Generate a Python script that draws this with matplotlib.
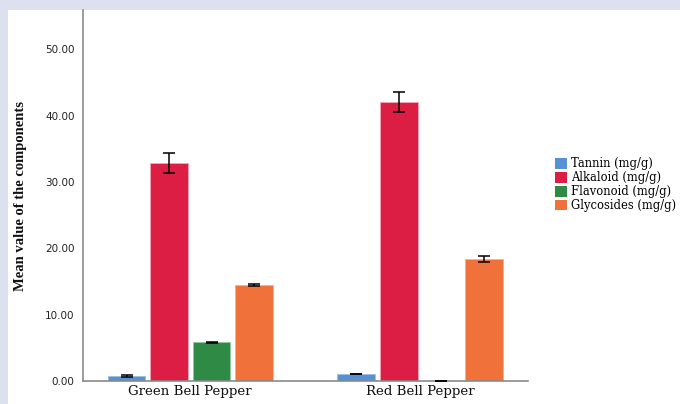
import numpy as np
import matplotlib
matplotlib.use("Agg")
import matplotlib.pyplot as plt
from matplotlib.patches import Rectangle, Patch

# ── Data ────────────────────────────────────────────────────────────
groups = ["Green Bell Pepper", "Red Bell Pepper"]
components = ["Tannin (mg/g)", "Alkaloid (mg/g)", "Flavonoid (mg/g)", "Glycosides (mg/g)"]
tannin = [0.75, 1.05]
alkaloid = [32.8, 42.1]
flavonoid = [5.87, 0.0]
glycosides = [14.5, 18.4]
tannin_err = [0.12, 0.05]
alkaloid_err = [1.5, 1.5]
flavonoid_err = [0.08, 0.05]
glycosides_err = [0.15, 0.45]

means = [tannin, alkaloid, flavonoid, glycosides]
errs = [tannin_err, alkaloid_err, flavonoid_err, glycosides_err]
colors = ["#5591d4", "#dc1e45", "#2f8a46", "#f1713a"]
edges = ["#9cc0ea", "#f4a3b4", "#8fc89e", "#f8b08f"]

fig = plt.figure(figsize=(6.8, 4.04), dpi=100)
fig.patch.set_facecolor("#dde0ef")
# white panel behind the chart
fig.patches.append(Rectangle((8 / 680, 0), 1, 1 - 10 / 404, transform=fig.transFigure,
                             facecolor="white", edgecolor="none", zorder=-10))

ax = fig.add_axes([83 / 680, 1 - 381 / 404, 445 / 680, 371 / 404])
ax.set_zorder(1)
ax.set_facecolor("white")

x = np.arange(len(groups))
step = 0.185
width = 0.165
for i, (m, e, c, ec) in enumerate(zip(means, errs, colors, edges)):
    pos = x + (i - 1.5) * step
    ax.bar(pos, m, width=width, color=c, edgecolor=ec, linewidth=0.7, zorder=2)
    ax.errorbar(pos, m, yerr=e, fmt="none", ecolor="black", elinewidth=1.1,
                capsize=4.5, capthick=1.1, zorder=3)

ax.set_xlim(-0.467, 1.47)
ax.set_ylim(0, 55.9)
ax.set_yticks([0, 10, 20, 30, 40, 50])
ax.set_yticklabels([f"{v:.2f}" for v in [0, 10, 20, 30, 40, 50]],
                   fontsize=7.5, color="#222222")
ax.set_xticks(x)
ax.set_xticklabels(groups, family="DejaVu Serif", fontsize=9.6, color="#111111")
ax.tick_params(axis="both", length=0)
ax.tick_params(axis="y", pad=6)
ax.tick_params(axis="x", pad=3)
for s in ["top", "right"]:
    ax.spines[s].set_visible(False)
for s in ["left", "bottom"]:
    ax.spines[s].set_color("#8a8a8a")
    ax.spines[s].set_linewidth(1.2)

fig.text(21 / 680, 1 - 196 / 404, "Mean value of the components", rotation=90,
         ha="center", va="center", family="Liberation Serif", fontweight="bold",
         fontsize=10.5, color="#111111")

handles = [Patch(facecolor=c, edgecolor="none") for c in colors]
fig.legend(handles, components, loc="upper left", bbox_to_anchor=(553 / 680, 1 - 155 / 404),
           frameon=False, prop={"family": "DejaVu Serif", "size": 8.3},
           handlelength=1.05, handleheight=1.05, handletextpad=0.3, labelspacing=0.08,
           borderaxespad=0, borderpad=0.2)

fig.savefig("out.png", dpi=100, facecolor=fig.get_facecolor())
